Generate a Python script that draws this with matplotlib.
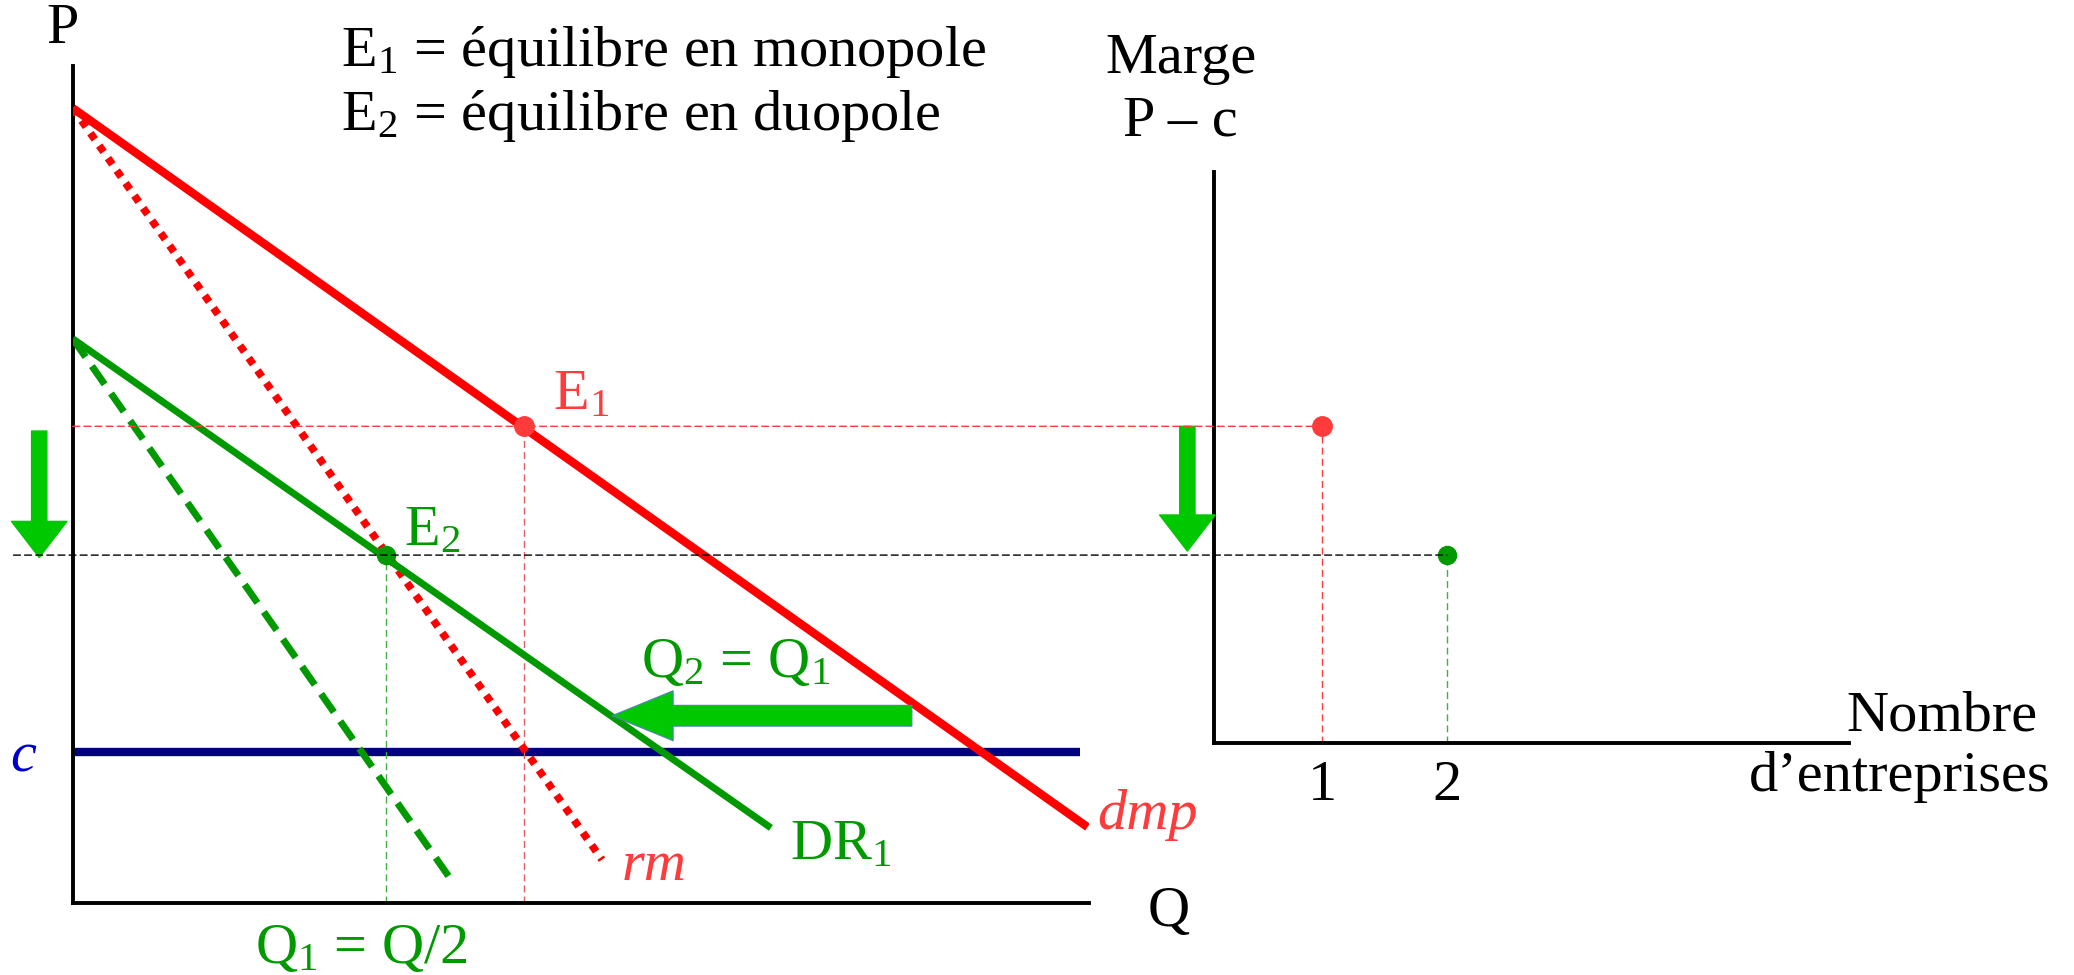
import matplotlib.pyplot as plt
from matplotlib.patches import ConnectionPatch

# left panel (Q, P): market demand, marginal revenue, residual demand of firm 1
q_dmp = [0, 90.7]
p_dmp = [100, 9.6]
q_rm = [0, 47.3]
p_rm = [100, 5.5]
q_dr1 = [0, 62.4]
p_dr1 = [71, 9.5]
q_rm1 = [0, 33.8]
p_rm1 = [71, 3.0]
cost_c = 19
q_cost = [0, 90]

# equilibria E1 (monopole) and E2 (duopole)
eq_q = [40.3, 28.0]
eq_p = [60.0, 43.8]

# right panel: number of firms vs margin P - c
n_firms = [1, 2]
margins = [39.9, 23.7]

RED = "#FF0000"
LRED = "#FF3B3B"
GREEN = "#009A00"
ARROW = "#00C800"
NAVY = "#000080"
FS = 42

plt.rcParams['font.family'] = ['Liberation Serif', 'DejaVu Serif']
plt.rcParams['mathtext.fontset'] = 'custom'
plt.rcParams['mathtext.rm'] = 'Liberation Serif'
plt.rcParams['mathtext.it'] = 'Liberation Serif:italic'


def style_axes(ax):
    for side in ['top', 'right']:
        ax.spines[side].set_visible(False)
    for side in ['left', 'bottom']:
        ax.spines[side].set_linewidth(2.8)
    ax.set_facecolor('none')


fig = plt.figure(figsize=(20.74, 9.75), dpi=100)
axL = fig.add_axes([0.0351, 0.0734, 0.4898, 0.8589])
axR = fig.add_axes([0.5854, 0.2375, 0.3061, 0.5861])
style_axes(axL)
style_axes(axR)

# ---- left panel ----
axL.set_xlim(0, 90.8)
axL.set_ylim(0, 105.3)
axL.set_xticks([])
axL.set_yticks([])

axL.plot(q_cost, [cost_c, cost_c], color=NAVY, lw=6, solid_capstyle='butt', zorder=2)
axL.plot(q_dmp, p_dmp, color=RED, lw=6, solid_capstyle='butt', zorder=3)
axL.plot(q_rm, p_rm, color=RED, lw=5.5, linestyle=(0, (1, 1)), zorder=3)
axL.plot(q_dr1, p_dr1, color=GREEN, lw=5, solid_capstyle='butt', zorder=3)
axL.plot(q_rm1, p_rm1, color=GREEN, lw=5, linestyle=(0, (3.2, 1.6)), zorder=3)

# guide lines down to the Q axis
axL.plot([eq_q[0], eq_q[0]], [0, eq_p[0]], color="#E06060", lw=1, linestyle=(0, (5, 3)))
axL.plot([eq_q[1], eq_q[1]], [0, eq_p[1]], color="#40B040", lw=1, linestyle=(0, (5, 3)))

axL.plot(eq_q[0], eq_p[0], 'o', color=LRED, ms=14, zorder=5)
axL.plot(eq_q[1], eq_p[1], 'o', color=GREEN, ms=13, zorder=5)

# horizontal guide lines joining both panels
fig.add_artist(ConnectionPatch(xyA=(0, eq_p[0]), coordsA=axL.transData,
                               xyB=(n_firms[0], margins[0]), coordsB=axR.transData,
                               color=LRED, lw=1, linestyle=(0, (5, 3))))
fig.add_artist(ConnectionPatch(xyA=(-5.3, eq_p[1]), coordsA=axL.transData,
                               xyB=(n_firms[1], margins[1]), coordsB=axR.transData,
                               color="black", lw=1, linestyle=(0, (5, 3))))

# fat green arrows
big_arrow = dict(arrowstyle='simple,head_length=1.3,head_width=2.0,tail_width=0.55',
                 mutation_scale=20, color=ARROW, shrinkA=0, shrinkB=0)
axL.annotate('', xy=(-3.0, eq_p[1] - 0.3), xytext=(-3.0, eq_p[0] - 0.6),
             arrowprops=big_arrow, annotation_clip=False)
axL.annotate('', xy=(48.2, 23.6), xytext=(75.0, 23.6),
             arrowprops=dict(arrowstyle='simple,head_length=2.2,head_width=1.8,tail_width=0.75',
                             mutation_scale=20, fc=ARROW, ec="#5080C0", lw=0.8,
                             shrinkA=0, shrinkB=0),
             annotation_clip=False)

# labels
axL.text(-0.95, 110.0, "P", fontsize=FS, ha='center', va='center', clip_on=False)
axL.text(-4.4, 16.6, "c", fontsize=FS, color="#0000CC", style='italic',
         ha='center', va='baseline', clip_on=False)
axL.text(96.1, -2.8, "Q", fontsize=FS, ha='left', va='baseline', clip_on=False)
axL.text(42.9, 62.1, r"E$_1$", fontsize=FS, color=LRED, ha='left', va='baseline')
axL.text(29.6, 45.1, r"E$_2$", fontsize=FS, color=GREEN, ha='left', va='baseline')
axL.text(50.8, 28.5, r"Q$_2$ = Q$_1$", fontsize=FS, color=GREEN, ha='left', va='baseline')
axL.text(64.1, 5.5, r"DR$_1$", fontsize=FS, color=GREEN, ha='left', va='baseline')
axL.text(49.1, 3.0, "rm", fontsize=FS, color=LRED, style='italic', ha='left', va='baseline')
axL.text(91.6, 9.3, "dmp", fontsize=FS, color=LRED, style='italic', ha='left',
         va='baseline', clip_on=False)
axL.text(16.3, -7.5, r"Q$_1$ = Q/2", fontsize=FS, color=GREEN, ha='left', va='baseline',
         clip_on=False)

fig.text(0.1645, 0.932, r"E$_1$ = équilibre en monopole", fontsize=FS, va='baseline')
fig.text(0.1645, 0.867, r"E$_2$ = équilibre en duopole", fontsize=FS, va='baseline')

# ---- right panel ----
axR.set_xlim(0.13, 5.23)
axR.set_ylim(0, 71.9)
axR.set_yticks([])
axR.set_xticks(n_firms)
axR.set_xticklabels([str(n) for n in n_firms])
axR.tick_params(axis='x', length=0, pad=12, labelsize=FS)

axR.plot([n_firms[0], n_firms[0]], [0, margins[0]], color=LRED, lw=1, linestyle=(0, (5, 3)))
axR.plot([n_firms[1], n_firms[1]], [0, margins[1]], color="#40B040", lw=1, linestyle=(0, (5, 3)))
axR.plot(n_firms[0], margins[0], 'o', color=LRED, ms=14, zorder=5, clip_on=False)
axR.plot(n_firms[1], margins[1], 'o', color=GREEN, ms=13, zorder=5, clip_on=False)

axR.annotate('', xy=(-0.085, margins[1] + 0.5), xytext=(-0.085, margins[0]),
             arrowprops=big_arrow, annotation_clip=False)

axR.text(-0.14, 84.4, "Marge", fontsize=FS, ha='center', va='baseline', clip_on=False)
axR.text(-0.14, 76.5, "P – c", fontsize=FS, ha='center', va='baseline', clip_on=False)
axR.text(6.745, 1.66, "Nombre", fontsize=FS, ha='right', va='baseline', clip_on=False)
axR.text(6.85, -6.0, "d’entreprises", fontsize=FS, ha='right', va='baseline', clip_on=False)

fig.savefig("out.png", dpi=100, facecolor='white')
